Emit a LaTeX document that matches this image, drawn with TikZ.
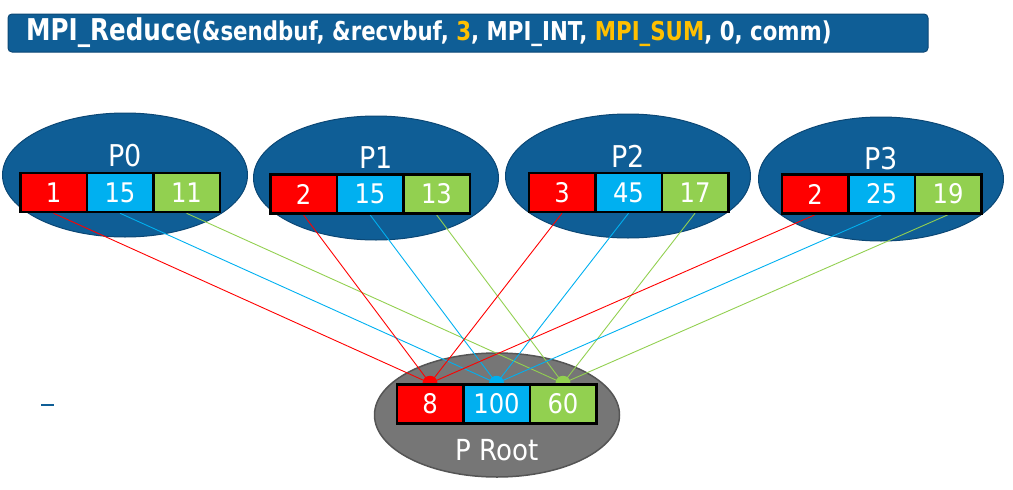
\documentclass[tikz,border=0pt]{standalone}
\usepackage{fontspec}
\setmainfont{DejaVu Sans}[FakeStretch=0.9]
\newfontfamily\titlefont{DejaVu Sans}[FakeStretch=0.82]
\usetikzlibrary{shapes.geometric}
\pgfdeclarelayer{bg}
\pgfdeclarelayer{mid}
\pgfsetlayers{bg,mid,main}
\definecolor{cred}{HTML}{FF0000}
\definecolor{cblue}{HTML}{00B0F0}
\definecolor{cgreen}{HTML}{92D050}
\definecolor{pblue}{HTML}{0F5E96}
\definecolor{pbluedark}{HTML}{0B4775}
\definecolor{rgray}{HTML}{767676}
\definecolor{rgraydark}{HTML}{555555}
\definecolor{torange}{HTML}{FFC000}
\tikzset{
  proc/.style={ellipse, fill=pblue, draw=pbluedark, line width=1pt, minimum width=245pt, minimum height=124pt, inner sep=0pt},
  rootproc/.style={ellipse, fill=rgray, draw=rgraydark, line width=1.5pt, minimum width=245pt, minimum height=124pt, inner sep=0pt},
  cell/.style={draw=black, line width=2.5pt, minimum width=66.5pt, minimum height=39pt, inner sep=0pt, text=white, font=\fontsize{27}{27}\selectfont},
  rcell/.style={cell, fill=cred},
  bcell/.style={cell, fill=cblue},
  gcell/.style={cell, fill=cgreen},
  plabel/.style={text=white, font=\fontsize{30}{30}\selectfont, inner sep=0pt},
  link/.style={line width=0.9pt},
  marker/.style={circle, minimum size=15pt, inner sep=0pt},
}
\begin{document}
\begin{tikzpicture}[x=1pt,y=-1pt]
\useasboundingbox (0,0) rectangle (1013,490);
% title bar
\node[draw=pbluedark, fill=pblue, line width=1pt, rounded corners=4pt, minimum width=920pt, minimum height=38pt, inner sep=0pt] (title) at (468,33) {};
\node[anchor=west, text=white, inner sep=0pt] (titletext) at (26,33) {\titlefont\bfseries\fontsize{30}{30}\selectfont MPI\_Reduce\fontsize{26}{26}\selectfont(\&sendbuf, \&recvbuf, \textcolor{torange}{3}, MPI\_INT, \textcolor{torange}{MPI\_SUM}, 0, comm)};
% process ellipses
\begin{pgfonlayer}{bg}
\node[proc] (e0) at (125,175) {};
\node[proc] (e1) at (376,178) {};
\node[proc] (e2) at (628,176) {};
\node[proc] (e3) at (881,179) {};
\node[rootproc] (er) at (497,415) {};
\end{pgfonlayer}
% labels
\node[plabel] (l0) at (125,156) {P0};
\node[plabel] (l1) at (376,158) {P1};
\node[plabel] (l2) at (628,156) {P2};
\node[plabel] (l3) at (881,159) {P3};
\node[plabel, font=\fontsize{29}{29}\selectfont] (lr) at (497,450) {P Root};
% cells
\node[rcell] (a0) at (53.5,192.5) {1};
\node[bcell] (b0) at (120,192.5) {15};
\node[gcell] (c0) at (186.5,192.5) {11};
\node[rcell] (a1) at (303.5,194) {2};
\node[bcell] (b1) at (370,194) {15};
\node[gcell] (c1) at (436.5,194) {13};
\node[rcell] (a2) at (562,192.5) {3};
\node[bcell] (b2) at (628.5,192.5) {45};
\node[gcell] (c2) at (695,192.5) {17};
\node[rcell] (a3) at (815,194) {2};
\node[bcell] (b3) at (881.5,194) {25};
\node[gcell] (c3) at (948,194) {19};
\node[rcell] (ar) at (430,404) {8};
\node[bcell] (br) at (496.5,404) {100};
\node[gcell] (cr) at (563,404) {60};
% markers and links
\begin{pgfonlayer}{mid}
\node[marker, fill=cred] (mr) at (ar.north) {};
\node[marker, fill=cblue] (mb) at (br.north) {};
\node[marker, fill=cgreen] (mg) at (cr.north) {};
\foreach \i in {0,1,2,3}{
  \draw[link, cred] (a\i.south) -- (mr.center);
  \draw[link, cblue] (b\i.south) -- (mb.center);
  \draw[link, cgreen] (c\i.south) -- (mg.center);
}
\end{pgfonlayer}
% stray dash
\coordinate (d1) at (41,405);
\coordinate (d2) at (54,405);
\draw[pblue, line width=1.5pt] (d1) -- (d2);
\end{tikzpicture}
\end{document}
